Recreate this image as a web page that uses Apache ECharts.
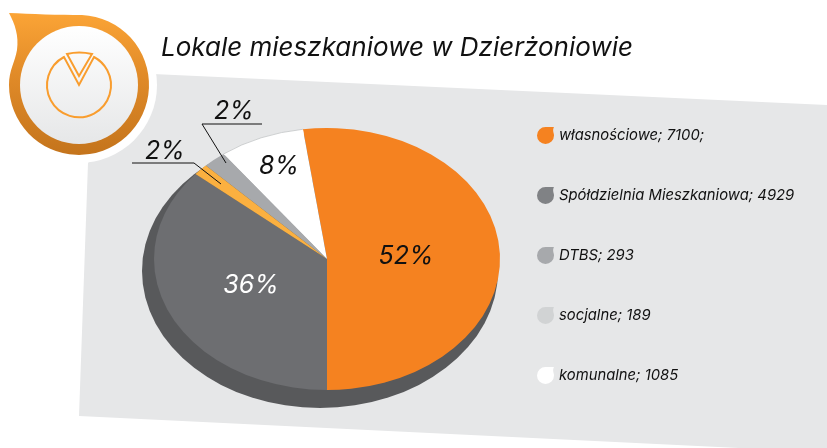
<!DOCTYPE html>
<html>
<head>
<meta charset="utf-8">
<style>
  html, body { margin: 0; padding: 0; background: #fff; }
  #chart { width: 827px; height: 448px; }
</style>
<script src="https://cdn.jsdelivr.net/npm/echarts@6/dist/echarts.min.js"></script>
</head>
<body>
<div id="chart"></div>
<script>
const titleText = 'Lokale mieszkaniowe w Dzierżoniowie';
const categories = ['własnościowe', 'Spółdzielnia Mieszkaniowa', 'DTBS', 'socjalne', 'komunalne'];
const values = [7100, 4929, 293, 189, 1085];
const legendSuffix = [';', '', '', '', ''];
// order on the pie differs from the legend: socjalne sits before DTBS
const pieOrder = [0, 1, 3, 2, 4];
const sliceColors = ['#f58220', '#6d6e71', '#a7a9ac', '#fbb040', '#ffffff'];
const legendColors = ['#f58220', '#808285', '#a7a9ac', '#d1d3d4', '#ffffff'];
const sliceLabels = ['52%', '36%', '2%', '2%', '8%'];

const FONT = 'Inter';
const total = values.reduce((a, b) => a + b, 0);
const drop = 'path://M50 0 L100 0 C100 0 92 12 96 30 C99 40 100 45 100 50 A50 50 0 1 1 50 0 Z';

// cumulative share before each slice, following the pie order
let running = 0;
const before = {};
pieOrder.forEach(i => { before[i] = running; running += values[i]; });

// first slice ends at six o'clock
const startAngle = Math.PI / 2 - values[0] / total * Math.PI * 2;

function renderSlice(params, api) {
  const from = startAngle + api.value(1) / total * Math.PI * 2;
  const to = from + api.value(0) / total * Math.PI * 2;
  const children = [{
    type: 'sector',
    shape: { cx: 0, cy: 0, r0: 0, r: 173, startAngle: from, endAngle: to, clockwise: true },
    style: { fill: api.visual('color') }
  }];
  // the white slice has a thin grey edge along its arc
  if (api.visual('color') === '#ffffff') {
    children.push({
      type: 'arc',
      shape: { cx: 0, cy: 0, r: 173, startAngle: from, endAngle: to, clockwise: true },
      style: { fill: null, stroke: '#bcbec0', lineWidth: 0.8 }
    });
  }
  return { type: 'group', x: 327, y: 259, scaleY: 131 / 173, children: children };
}

function pieText(text, x, y, color) {
  return {
    type: 'text', x: x, y: y, z: 100,
    style: {
      text: text, fill: color || '#111', align: 'center', verticalAlign: 'middle',
      font: 'italic 25px ' + FONT
    }
  };
}

function leader(points) {
  return {
    type: 'polyline', z: 100,
    shape: { points: points },
    style: { stroke: '#111', lineWidth: 1, fill: null }
  };
}

const badgeGradient = {
  type: 'linear', x: 0, y: 0, x2: 0, y2: 1,
  colorStops: [{ offset: 0, color: '#fba436' }, { offset: 0.45, color: '#e08a28' }, { offset: 1, color: '#c4741c' }]
};
const discGradient = {
  type: 'linear', x: 0, y: 0, x2: 0, y2: 1,
  colorStops: [{ offset: 0, color: '#ffffff' }, { offset: 1, color: '#e6e7e8' }]
};

// corner badge, the pie icon inside it
function renderBadge() {
  return {
    type: 'group',
    children: [
      { type: 'circle', shape: { cx: 79, cy: 85, r: 78 }, style: { fill: '#ffffff' } },
      {
        type: 'path',
        shape: { pathData: 'M9 13 C30 14 60 15 82 15 A70 70 0 1 1 9 85 C9 70 15 62 17 50 C19 36 15 24 9 13 Z' },
        style: { fill: badgeGradient }
      },
      { type: 'circle', shape: { cx: 79, cy: 85, r: 59 }, style: { fill: discGradient } },
      {
        type: 'path',
        shape: { pathData: 'M64 57 A32 32 0 1 0 94 57 L79 85 Z' },
        style: { fill: null, stroke: '#f99d2e', lineWidth: 2 }
      },
      {
        type: 'path',
        shape: { pathData: 'M67 54 Q79 51 92 54 L79 76 Z' },
        style: { fill: null, stroke: '#f99d2e', lineWidth: 2 }
      }
    ]
  };
}

const pieSeries = categories.map((name, i) => ({
  type: 'custom',
  name: name,
  coordinateSystem: 'none',
  silent: true,
  z: 6,
  itemStyle: { color: sliceColors[i] },
  renderItem: renderSlice,
  data: [[values[i], before[i]]]
}));

const chart = echarts.init(document.getElementById('chart'), null, { renderer: 'canvas' });
chart.setOption({
  animation: false,
  backgroundColor: '#ffffff',
  title: {
    text: titleText,
    left: 156,
    top: 30,
    textStyle: { fontFamily: FONT, fontStyle: 'italic', fontWeight: 'normal', fontSize: 26, color: '#111' }
  },
  legend: {
    orient: 'vertical',
    left: 532,
    top: 122,
    itemWidth: 17,
    itemHeight: 17,
    itemGap: 43,
    selectedMode: false,
    data: categories.map((name, i) => ({
      name: name,
      icon: drop,
      itemStyle: { color: legendColors[i] }
    })),
    formatter: name => {
      const i = categories.indexOf(name);
      return name + '; ' + values[i] + legendSuffix[i];
    },
    textStyle: { fontFamily: FONT, fontStyle: 'italic', fontSize: 14.8, color: '#111' }
  },
  graphic: [
    // grey panel
    {
      type: 'polygon', z: 0,
      shape: { points: [[153, 74], [827, 105], [827, 448], [739, 448], [79, 416], [88, 163]] },
      style: { fill: '#e6e7e8' }
    },
    // pie rim
    {
      type: 'circle', z: 5, x: 320, y: 271, scaleY: 137 / 178,
      shape: { cx: 0, cy: 0, r: 178 },
      style: { fill: '#58595b' }
    },
    leader([[262, 124], [202, 124], [226, 163]]),
    leader([[132, 163], [194, 163], [221, 184]]),
    pieText(sliceLabels[0], 406, 256),
    pieText(sliceLabels[1], 251, 285, '#ffffff'),
    pieText(sliceLabels[2], 234, 111),
    pieText(sliceLabels[3], 165, 151),
    pieText(sliceLabels[4], 279, 166)
  ],
  series: [{
    type: 'custom',
    name: 'badge',
    coordinateSystem: 'none',
    silent: true,
    z: 1,
    renderItem: renderBadge,
    data: [[0]]
  }].concat(pieSeries)
});
</script>
</body>
</html>
